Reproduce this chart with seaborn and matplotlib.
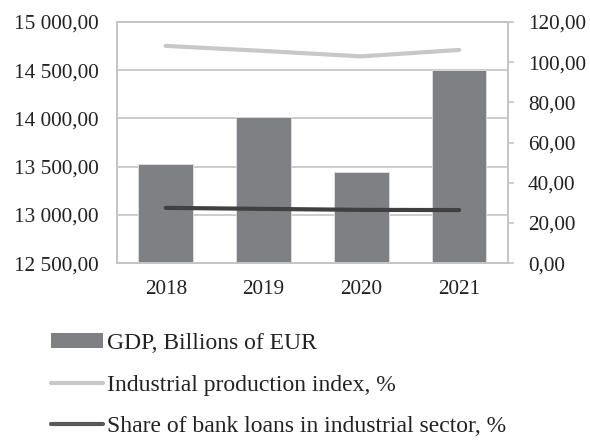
import numpy as np
import pandas as pd
import matplotlib
matplotlib.use("Agg")
import matplotlib.pyplot as plt
import seaborn as sns
from matplotlib.patches import Patch
from matplotlib.lines import Line2D
from matplotlib.ticker import FuncFormatter

years = ["2018", "2019", "2020", "2021"]
gdp = [13527, 14011, 13447, 14499]
ipi = [108.1, 105.6, 102.9, 106.1]
loans = [27.5, 27.0, 26.5, 26.4]

labels = ["GDP, Billions of EUR", "Industrial production index, %",
          "Share of bank loans in industrial sector, %"]

sns.set_style("white")
plt.rcParams['font.family'] = ['Liberation Serif', 'DejaVu Serif']

BAR = "#7f8084"
LIGHT = "#c8c8c8"
DARK = "#404040"
DARK_LEG = "#585858"
GRID = "#c4c4c4"
TXT = "#222222"
FS = 15.3

fig = plt.figure(figsize=(5.9, 4.4), dpi=100)
ax = fig.add_axes([0.198, 0.402, 0.663, 0.548])

df = pd.DataFrame({"year": years, "gdp": gdp})
sns.barplot(data=df, x="year", y="gdp", ax=ax, color=BAR, saturation=1,
            width=0.56, edgecolor="#e0e0e0", linewidth=0.6)
ax.set_ylim(12500, 15000)
ax.set_yticks(np.arange(12500, 15001, 500))
fmt_left = FuncFormatter(lambda v, p: f"{int(v):,}".replace(",", " ") + ",00")
ax.yaxis.set_major_formatter(fmt_left)
ax.set_xlim(-0.5, 3.5)
ax.grid(axis="y", color=GRID, linewidth=1.2)
ax.set_axisbelow(True)
ax.set_xlabel("")
ax.set_ylabel("")
ax.tick_params(axis="y", length=0, pad=13, labelsize=FS, colors=TXT)
ax.tick_params(axis="x", length=0, pad=12, labelsize=FS, colors=TXT)
for s in ax.spines.values():
    s.set_color(GRID)
    s.set_linewidth(1.2)

ax2 = ax.twinx()
xpos = np.arange(len(years))
sns.lineplot(x=xpos, y=ipi, ax=ax2, color=LIGHT, linewidth=3)
sns.lineplot(x=xpos, y=loans, ax=ax2, color=DARK, linewidth=3)
ax2.set_ylim(0, 120)
ax2.set_yticks(np.arange(0, 121, 20))
ax2.yaxis.set_major_formatter(FuncFormatter(lambda v, p: f"{v:.2f}".replace(".", ",")))
ax2.tick_params(axis="y", direction="out", length=4.3, width=1.2,
                pad=10, labelsize=FS, labelcolor=TXT, color=GRID)
for s in ax2.spines.values():
    s.set_color(GRID)
    s.set_linewidth(1.2)
ax2.set_xlim(-0.5, 3.5)
ax2.set_ylabel("")

handles = [Patch(facecolor=BAR, edgecolor="none"),
           Line2D([], [], color=LIGHT, linewidth=3),
           Line2D([], [], color=DARK_LEG, linewidth=3)]
fig.legend(handles, labels, loc="upper left", bbox_to_anchor=(0.086, 0.243),
           frameon=False, fontsize=17, handlelength=2.2, handleheight=0.6,
           handletextpad=0.2, labelspacing=0.87, borderaxespad=0, borderpad=0,
           labelcolor=TXT)

fig.savefig("out.png", dpi=100)
